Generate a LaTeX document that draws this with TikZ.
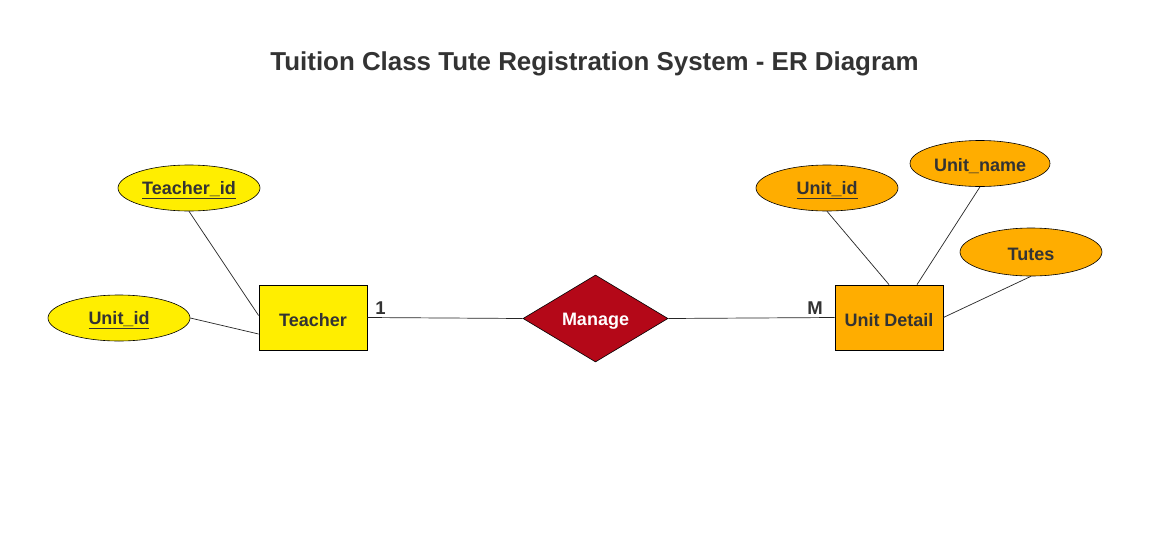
\documentclass[tikz,border=0pt]{standalone}
\usepackage{fontspec}
\setmainfont{Liberation Sans}
\usetikzlibrary{shapes.geometric,calc}
\definecolor{txt}{HTML}{333333}
\definecolor{yel}{HTML}{FFEE00}
\definecolor{org}{HTML}{FFAD00}
\definecolor{dred}{HTML}{B40818}
\newcommand{\lw}[1]{\raisebox{-2.5pt}[\height][\depth]{#1}}
\tikzset{
  lbl/.style={font=\fontsize{18}{21}\selectfont\bfseries, text=txt},
  ent/.style={draw=black, line width=0.8pt, minimum width=108pt, minimum height=65pt, inner sep=0pt, lbl},
  attr/.style={ellipse, draw=black, line width=0.6pt, minimum width=142pt, minimum height=46pt, inner sep=0pt, lbl},
  rel/.style={diamond, draw=black, line width=0.6pt, fill=dred, minimum width=145pt, minimum height=87pt, inner sep=0pt, font=\fontsize{18}{21}\selectfont\bfseries, text=white},
  conn/.style={draw=black!85, line width=0.7pt},
  card/.style={font=\fontsize{18.5}{21}\selectfont\bfseries, text=txt, inner sep=0pt}
}
\begin{document}
\begin{tikzpicture}[x=1pt,y=-1pt]
\path[fill=white] (0,0) rectangle (1166,557);
\node[font=\fontsize{25.9}{30}\selectfont\bfseries, text=txt] (title) at (594.5,64) {Tuition Class Tute Registration System - ER Diagram};

\node[ent, fill=yel] (teacher) at (313,317.5) {\lw{Teacher}};
\node[ent, fill=org] (ud) at (889,317.5) {\lw{Unit Detail}};
\node[rel] (manage) at (595.5,318.5) {\lw{Manage}};

\node[attr, fill=yel] (tid) at (189,188) {\lw{\underline{Teacher\_id}}};
\node[attr, fill=yel] (uidl) at (119,318) {\lw{\underline{Unit\_id}}};
\node[attr, fill=org] (uidr) at (827,188) {\lw{\underline{Unit\_id}}};
\node[attr, fill=org, minimum width=140pt] (uname) at (980,163.5) {\lw{Unit\_name}};
\node[attr, fill=org, minimum height=48pt] (tutes) at (1031,252) {\lw{Tutes}};

\draw[conn] (tid.south) -- ($(teacher.west)+(0,-2)$);
\draw[conn] (uidl.east) -- ($(teacher.west)+(0,16.5)$);
\draw[conn] (teacher.east) -- (manage.west);
\draw[conn] (manage.east) -- (ud.west);
\draw[conn] (uidr.south) -- (ud.north);
\draw[conn] (uname.south) -- ($(ud.north)+(28,0)$);
\draw[conn] (tutes.south) -- (ud.east);

\node[card] (c1) at (380.5,308.5) {1};
\node[card] (cm) at (815,308.5) {M};
\end{tikzpicture}
\end{document}
